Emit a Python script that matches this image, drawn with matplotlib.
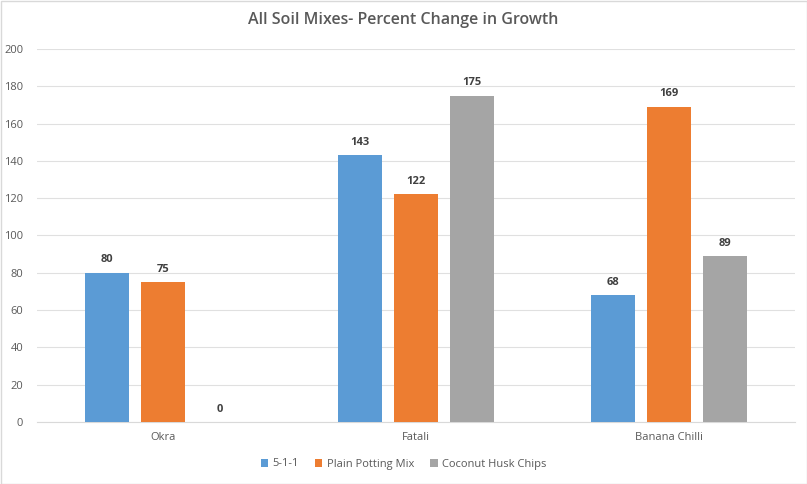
import matplotlib
matplotlib.use("Agg")
import matplotlib.pyplot as plt
import numpy as np
from matplotlib.patches import Rectangle

categories = ["Okra", "Fatali", "Banana Chilli"]
series_names = ["5-1-1", "Plain Potting Mix", "Coconut Husk Chips"]
s511 = [80, 143, 68]
plain = [75, 122, 169]
coconut = [0, 175, 89]
yticks = [0, 20, 40, 60, 80, 100, 120, 140, 160, 180, 200]

colors = ["#5B9BD5", "#ED7D31", "#A5A5A5"]
txt = "#595959"
plt.rcParams['font.family'] = ['Open Sans', 'DejaVu Sans']

fig = plt.figure(figsize=(8.07, 4.84), dpi=100)
ax = fig.add_axes([37/807, 1-422/484, 758/807, 373/484])

x = np.arange(len(categories))
w = 0.174
step = 0.2216
for i, (vals, name) in enumerate(zip([s511, plain, coconut], series_names)):
    pos = x + (i-1)*step
    ax.bar(pos, vals, width=w, color=colors[i], label=name, zorder=3)
    for p, v in zip(pos, vals):
        ax.text(p, v + 4, str(v), ha="center", va="bottom", fontsize=8,
                fontweight="bold", color="#404040")

ax.set_xlim(-0.5, 2.5)
ax.set_ylim(0, 200)
ax.set_yticks(yticks)
ax.set_yticklabels([str(t) for t in yticks], fontsize=8, color=txt)
ax.set_xticks(x)
ax.set_xticklabels(categories, fontsize=8, color=txt)
ax.grid(axis="y", color="#E0E0E0", linewidth=0.8, zorder=0)
for s in ["top", "right", "left"]:
    ax.spines[s].set_visible(False)
ax.spines["bottom"].set_color("#D9D9D9")
ax.tick_params(axis="y", length=0, pad=10)
ax.tick_params(axis="x", length=0, pad=7)

fig.text(0.5, 1-20/484, "All Soil Mixes- Percent Change in Growth", ha="center",
         va="center", fontsize=11.5, color=txt, fontweight="semibold")

leg = fig.legend(loc="center", bbox_to_anchor=(0.5, 1-464/484), ncol=3, frameon=False,
                 fontsize=8, handlelength=0.7, handleheight=0.7, handletextpad=0.4,
                 columnspacing=1.4)
for t in leg.get_texts():
    t.set_color(txt)

fig.patches.append(Rectangle((0.5/807, 0.5/484), 1-1/807, 1-1/484, transform=fig.transFigure,
                             fill=False, edgecolor="#D9D9D9", linewidth=1))
fig.savefig("out.png", dpi=100, facecolor="white")
